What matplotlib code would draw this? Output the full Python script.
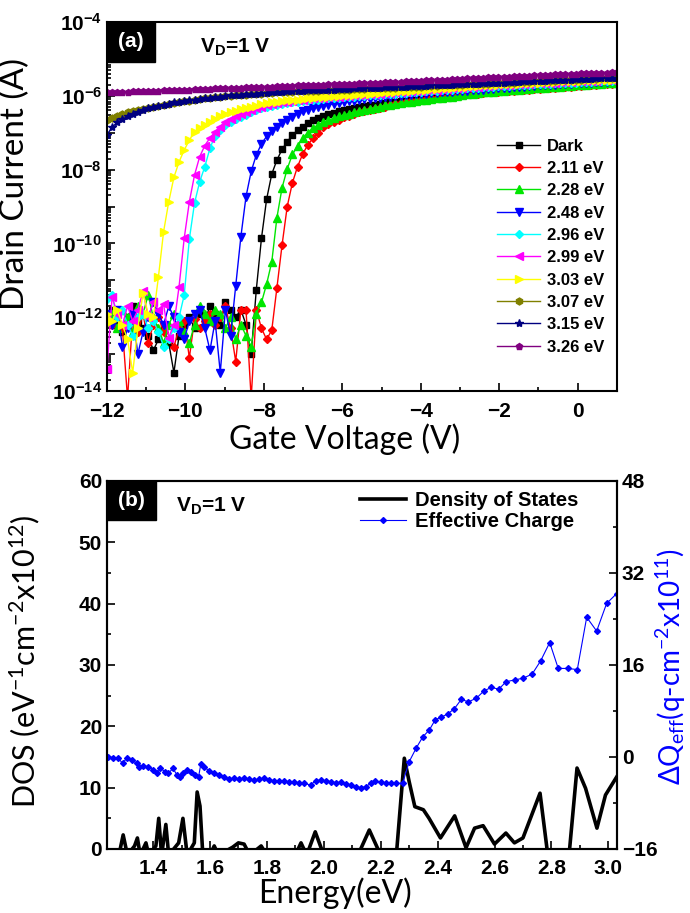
import numpy as np
import matplotlib
matplotlib.use("Agg")
import matplotlib.pyplot as plt
from matplotlib.ticker import LogLocator, MultipleLocator, FuncFormatter, NullFormatter, FormatStrFormatter
from matplotlib.patches import Rectangle

plt.rcParams['font.family'] = ['Liberation Sans', 'DejaVu Sans']
plt.rcParams['font.weight'] = 'bold'
plt.rcParams['mathtext.default'] = 'regular'
LABEL_FONT = ['Lato', 'DejaVu Sans']

# ---------------- panel (a): transfer curves, log10 of drain current ----------------
gate_v = np.linspace(-12, 1, 100)

labels = ['Dark', '2.11 eV', '2.28 eV', '2.48 eV', '2.96 eV',
          '2.99 eV', '3.03 eV', '3.07 eV', '3.15 eV', '3.26 eV']
colors = ['#000000', '#ff0000', '#00e600', '#0000ff', '#00ffff',
          '#ff00ff', '#ffff00', '#808000', '#000080', '#800080']
markers = ['s', 'D', '^', 'v', 'D', '<', '>', 'h', '*', 'p']
msizes = [4.5, 4, 5.5, 5.5, 4, 5.5, 5.5, 5, 6, 5]

log_dark = [-12.0,-11.8,-12.2,-12.4,-12.0,-11.7,-12.1,-12.3,-12.5,-12.9,
            -12.6,-12.3,-12.7,-13.5,-12.5,-12.2,-12.0,-12.3,-11.9,-12.1,
            -11.7,-11.9,-12.2,-11.6,-11.8,-12.0,-11.8,-12.2,-13.0,-11.25,
            -9.86,-8.80,-8.12,-7.74,-7.45,-7.24,-7.07,-6.93,-6.84,-6.74,
            -6.66,-6.60,-6.55,-6.50,-6.46,-6.42,-6.39,-6.36,-6.33,-6.30,
            -6.28,-6.26,-6.24,-6.22,-6.20,-6.18,-6.16,-6.15,-6.13,-6.11,
            -6.10,-6.08,-6.07,-6.05,-6.04,-6.02,-6.01,-6.00,-5.98,-5.97,
            -5.95,-5.94,-5.92,-5.91,-5.90,-5.88,-5.87,-5.86,-5.84,-5.83,
            -5.82,-5.80,-5.79,-5.78,-5.77,-5.76,-5.75,-5.74,-5.73,-5.72,
            -5.71,-5.70,-5.69,-5.68,-5.67,-5.66,-5.65,-5.64,-5.63,-5.62]
log_211 = [-11.9,-12.2,-11.8,-12.3,-14.2,-12.0,-12.4,-11.9,-12.7,-12.2,
           -12.0,-12.4,-12.6,-12.8,-12.3,-12.1,-13.1,-12.05,-12.3,-12.1,
           -11.9,-12.2,-12.0,-11.7,-12.3,-13.2,-11.8,-11.8,-14.2,-11.8,
           -12.3,-12.6,-12.35,-11.2,-10.04,-9.0,-8.36,-7.92,-7.58,-7.33,
           -7.15,-7.0,-6.84,-6.77,-6.71,-6.65,-6.58,-6.54,-6.49,-6.45,
           -6.42,-6.39,-6.36,-6.33,-6.29,-6.26,-6.23,-6.20,-6.17,-6.15,
           -6.13,-6.11,-6.09,-6.07,-6.06,-6.04,-6.03,-6.01,-6.00,-5.98,
           -5.96,-5.95,-5.94,-5.93,-5.91,-5.90,-5.89,-5.88,-5.87,-5.86,
           -5.85,-5.84,-5.83,-5.82,-5.81,-5.80,-5.79,-5.78,-5.77,-5.76,
           -5.75,-5.74,-5.73,-5.72,-5.71,-5.70,-5.69,-5.68,-5.67,-5.66]
log_228 = [-12.1,-11.9,-12.3,-11.8,-12.0,-12.4,-11.7,-11.9,-11.4,-12.0,
           -12.3,-12.7,-12.2,-11.9,-12.1,-12.4,-12.7,-12.2,-11.7,-11.9,
           -12.1,-11.8,-11.9,-12.3,-12.0,-12.6,-12.2,-12.5,-12.8,-11.9,
           -11.6,-11.1,-10.5,-9.3,-8.49,-7.98,-7.59,-7.36,-7.15,-7.00,
           -6.88,-6.79,-6.72,-6.66,-6.61,-6.56,-6.52,-6.48,-6.44,-6.41,
           -6.38,-6.35,-6.32,-6.29,-6.26,-6.24,-6.22,-6.20,-6.18,-6.16,
           -6.14,-6.12,-6.10,-6.08,-6.06,-6.05,-6.03,-6.02,-6.00,-5.99,
           -5.95,-5.94,-5.93,-5.91,-5.90,-5.89,-5.88,-5.86,-5.85,-5.84,
           -5.83,-5.82,-5.81,-5.80,-5.79,-5.78,-5.77,-5.76,-5.75,-5.74,
           -5.73,-5.72,-5.71,-5.70,-5.69,-5.68,-5.67,-5.66,-5.65,-5.64]
log_248 = [-11.9,-12.2,-11.8,-12.8,-12.3,-11.9,-13.0,-12.4,-12.0,-11.6,
           -11.9,-12.2,-11.7,-12.0,-12.4,-12.6,-12.1,-11.9,-11.8,-12.3,
           -12.9,-12.1,-13.5,-11.8,-12.5,-11.15,-9.82,-8.73,-8.05,-7.6,
           -7.3,-7.1,-6.95,-6.84,-6.74,-6.65,-6.57,-6.48,-6.42,-6.38,
           -6.34,-6.30,-6.27,-6.24,-6.22,-6.19,-6.17,-6.15,-6.13,-6.11,
           -6.09,-6.08,-6.06,-6.05,-6.03,-6.02,-6.01,-6.00,-5.99,-5.97,
           -5.96,-5.95,-5.94,-5.93,-5.92,-5.91,-5.90,-5.89,-5.88,-5.87,
           -5.86,-5.85,-5.84,-5.83,-5.82,-5.81,-5.80,-5.79,-5.78,-5.77,
           -5.76,-5.75,-5.74,-5.73,-5.72,-5.71,-5.71,-5.70,-5.69,-5.68,
           -5.67,-5.66,-5.66,-5.65,-5.64,-5.63,-5.63,-5.62,-5.61,-5.60]
log_296 = [-11.5,-11.4,-12.0,-11.8,-12.2,-12.5,-12.0,-11.9,-12.3,-12.1,
           -12.4,-12.8,-12.6,-12.3,-12.0,-11.4,-9.88,-8.91,-8.33,-7.92,
           -7.42,-7.08,-6.93,-6.79,-6.70,-6.63,-6.57,-6.51,-6.44,-6.39,
           -6.34,-6.30,-6.27,-6.25,-6.22,-6.20,-6.18,-6.16,-6.14,-6.12,
           -6.11,-6.10,-6.08,-6.07,-6.06,-6.05,-6.04,-6.03,-6.02,-6.01,
           -6.00,-5.99,-5.98,-5.97,-5.96,-5.95,-5.94,-5.93,-5.92,-5.91,
           -5.90,-5.89,-5.88,-5.87,-5.86,-5.85,-5.84,-5.83,-5.82,-5.81,
           -5.80,-5.79,-5.78,-5.77,-5.76,-5.75,-5.74,-5.74,-5.73,-5.72,
           -5.71,-5.70,-5.70,-5.69,-5.68,-5.68,-5.67,-5.66,-5.66,-5.65,
           -5.64,-5.64,-5.63,-5.62,-5.62,-5.61,-5.61,-5.60,-5.60,-5.59]
log_299 = [-13.4,-11.45,-11.9,-12.2,-11.7,-12.1,-11.8,-11.3,-12.0,-11.6,
           -11.8,-11.65,-12.55,-12.2,-11.17,-9.86,-8.87,-8.15,-7.65,-7.35,
           -7.14,-6.98,-6.84,-6.72,-6.63,-6.56,-6.49,-6.43,-6.38,-6.34,
           -6.30,-6.26,-6.23,-6.20,-6.18,-6.16,-6.14,-6.12,-6.10,-6.09,
           -6.07,-6.06,-6.05,-6.04,-6.03,-6.02,-6.01,-6.00,-5.99,-5.98,
           -5.97,-5.96,-5.95,-5.94,-5.93,-5.92,-5.91,-5.90,-5.89,-5.88,
           -5.87,-5.86,-5.85,-5.84,-5.83,-5.82,-5.81,-5.80,-5.79,-5.78,
           -5.77,-5.76,-5.75,-5.74,-5.73,-5.72,-5.72,-5.71,-5.70,-5.69,
           -5.69,-5.68,-5.67,-5.66,-5.66,-5.65,-5.64,-5.64,-5.63,-5.62,
           -5.62,-5.61,-5.60,-5.60,-5.59,-5.59,-5.58,-5.57,-5.57,-5.56]
log_303 = [-11.9,-12.1,-11.8,-12.2,-12.6,-13.5,-12.3,-11.35,-11.9,-12.0,
           -10.9,-9.68,-8.87,-8.21,-7.79,-7.47,-7.20,-6.97,-6.87,-6.79,
           -6.70,-6.62,-6.55,-6.48,-6.44,-6.40,-6.37,-6.34,-6.30,-6.27,
           -6.23,-6.20,-6.18,-6.16,-6.14,-6.12,-6.11,-6.10,-6.08,-6.07,
           -6.06,-6.04,-6.03,-6.02,-6.01,-6.00,-5.99,-5.98,-5.97,-5.96,
           -5.95,-5.94,-5.93,-5.92,-5.91,-5.90,-5.89,-5.88,-5.87,-5.86,
           -5.85,-5.84,-5.83,-5.82,-5.81,-5.80,-5.79,-5.78,-5.77,-5.76,
           -5.75,-5.74,-5.73,-5.72,-5.71,-5.71,-5.70,-5.69,-5.68,-5.68,
           -5.67,-5.66,-5.65,-5.65,-5.64,-5.63,-5.63,-5.62,-5.61,-5.61,
           -5.60,-5.60,-5.59,-5.58,-5.58,-5.57,-5.57,-5.56,-5.56,-5.55]
log_307 = [-6.66,-6.60,-6.55,-6.49,-6.45,-6.42,-6.38,-6.35,-6.32,-6.29,
           -6.27,-6.25,-6.21,-6.19,-6.17,-6.15,-6.13,-6.11,-6.09,-6.07,
           -6.06,-6.04,-6.03,-6.01,-6.00,-5.99,-5.98,-5.97,-5.96,-5.95,
           -5.94,-5.93,-5.92,-5.91,-5.90,-5.89,-5.89,-5.88,-5.87,-5.87,
           -5.86,-5.86,-5.85,-5.85,-5.84,-5.84,-5.83,-5.83,-5.82,-5.81,
           -5.81,-5.80,-5.80,-5.79,-5.79,-5.78,-5.78,-5.77,-5.76,-5.76,
           -5.75,-5.75,-5.74,-5.73,-5.73,-5.72,-5.72,-5.71,-5.70,-5.70,
           -5.69,-5.69,-5.68,-5.67,-5.67,-5.66,-5.65,-5.65,-5.64,-5.64,
           -5.63,-5.62,-5.62,-5.61,-5.61,-5.60,-5.59,-5.59,-5.58,-5.58,
           -5.57,-5.56,-5.56,-5.55,-5.55,-5.54,-5.53,-5.53,-5.52,-5.52]
log_315 = [-7.06,-6.85,-6.72,-6.63,-6.56,-6.50,-6.44,-6.39,-6.34,-6.30,
           -6.27,-6.24,-6.21,-6.18,-6.16,-6.14,-6.12,-6.10,-6.08,-6.06,
           -6.05,-6.03,-6.02,-6.00,-5.99,-5.98,-5.97,-5.96,-5.95,-5.94,
           -5.93,-5.92,-5.91,-5.90,-5.89,-5.88,-5.87,-5.87,-5.86,-5.85,
           -5.85,-5.84,-5.84,-5.83,-5.83,-5.82,-5.82,-5.81,-5.80,-5.80,
           -5.79,-5.79,-5.78,-5.78,-5.77,-5.77,-5.76,-5.75,-5.75,-5.74,
           -5.74,-5.73,-5.73,-5.72,-5.71,-5.71,-5.70,-5.70,-5.69,-5.68,
           -5.68,-5.67,-5.67,-5.66,-5.65,-5.65,-5.64,-5.64,-5.63,-5.62,
           -5.62,-5.61,-5.61,-5.60,-5.59,-5.59,-5.58,-5.58,-5.57,-5.56,
           -5.56,-5.55,-5.55,-5.54,-5.54,-5.53,-5.52,-5.52,-5.51,-5.51]
log_326 = [-5.91,-5.90,-5.90,-5.89,-5.89,-5.88,-5.88,-5.87,-5.87,-5.86,
           -5.86,-5.85,-5.85,-5.84,-5.84,-5.83,-5.83,-5.82,-5.82,-5.81,
           -5.81,-5.80,-5.80,-5.79,-5.79,-5.78,-5.78,-5.77,-5.77,-5.76,
           -5.76,-5.75,-5.75,-5.74,-5.74,-5.73,-5.73,-5.72,-5.72,-5.71,
           -5.71,-5.70,-5.70,-5.69,-5.69,-5.68,-5.68,-5.67,-5.67,-5.66,
           -5.66,-5.65,-5.65,-5.64,-5.63,-5.63,-5.62,-5.62,-5.61,-5.60,
           -5.60,-5.59,-5.58,-5.58,-5.57,-5.56,-5.56,-5.55,-5.54,-5.54,
           -5.53,-5.52,-5.52,-5.51,-5.50,-5.50,-5.49,-5.48,-5.48,-5.47,
           -5.46,-5.46,-5.45,-5.44,-5.44,-5.43,-5.43,-5.42,-5.41,-5.41,
           -5.40,-5.40,-5.39,-5.39,-5.38,-5.38,-5.37,-5.37,-5.36,-5.36]

log_currents = [log_dark, log_211, log_228, log_248, log_296,
                log_299, log_303, log_307, log_315, log_326]

# ---------------- panel (b): density of states and effective charge ----------------
dos_energy = [1.24, 1.28, 1.295, 1.31, 1.335, 1.345, 1.355, 1.375, 1.385, 1.41,
              1.42, 1.43, 1.445, 1.455, 1.49, 1.505, 1.52, 1.545, 1.555, 1.565,
              1.575, 1.60, 1.615, 1.63, 1.68, 1.70, 1.72, 1.74, 1.78, 1.80,
              1.90, 1.92, 1.94, 1.97, 2.0, 2.12, 2.16, 2.2, 2.255, 2.283,
              2.30, 2.32, 2.35, 2.37, 2.41, 2.46, 2.50, 2.53, 2.56, 2.60,
              2.64, 2.67, 2.70, 2.76, 2.79, 2.86, 2.89, 2.92, 2.96, 2.99, 3.03]
dos_values = [-1, -1, 2.3, -1, 0.5, 1.8, -1, 1.0, -1, 0.5,
              5.0, -1, 4.0, -1, 1.0, 5.0, -1, 1.0, 9.3, 7.0,
              -1, -1, 0.5, -1, 0.3, 1.0, 0.8, -1, 0.5, -1,
              -1, 1.0, -1, 2.8, -1, -1, 3.1, -1, -1, 14.8,
              11.0, 6.9, 6.4, 5.0, 1.8, 5.4, 0.2, 3.4, 3.8, 0.8,
              2.6, 1.0, 1.8, 9.1, -2, -2, 13.2, 9.9, 3.4, 8.8, 11.8]

charge_energy = [1.243, 1.260, 1.278, 1.293, 1.307, 1.325, 1.343, 1.352, 1.366, 1.384,
                 1.401, 1.415, 1.425, 1.443, 1.454, 1.470, 1.484, 1.495, 1.507, 1.521,
                 1.533, 1.548, 1.560, 1.568, 1.580, 1.595, 1.613, 1.631, 1.648, 1.666,
                 1.683, 1.701, 1.719, 1.736, 1.754, 1.772, 1.789, 1.807, 1.825, 1.842,
                 1.860, 1.877, 1.895, 1.913, 1.930, 1.954, 1.971, 1.989, 2.007, 2.024,
                 2.042, 2.060, 2.077, 2.095, 2.112, 2.130, 2.148, 2.165, 2.179, 2.200,
                 2.218, 2.236, 2.253, 2.277, 2.300, 2.324, 2.348, 2.371, 2.392, 2.412,
                 2.436, 2.459, 2.483, 2.508, 2.536, 2.563, 2.589, 2.615, 2.641, 2.671,
                 2.700, 2.732, 2.762, 2.794, 2.824, 2.857, 2.891, 2.924, 2.959, 2.994, 3.029]
charge_values = [0.06, -0.12, -0.23, -1.10, -0.23, -0.52, -1.10, -1.68, -1.57, -1.68,
                 -2.26, -2.84, -1.97, -2.55, -2.84, -1.97, -3.13, -3.42, -2.84, -2.26,
                 -2.55, -3.13, -3.42, -1.22, -1.68, -2.38, -2.72, -3.13, -3.42, -3.88,
                 -3.71, -3.88, -3.71, -3.83, -4.00, -3.88, -3.71, -4.00, -4.12, -4.17,
                 -4.17, -4.29, -4.40, -4.46, -4.58, -4.87, -4.12, -4.00, -4.17, -4.29,
                 -4.46, -4.40, -4.70, -4.87, -5.16, -5.33, -5.16, -4.58, -4.12, -4.40,
                 -4.58, -4.46, -4.58, -4.58, -0.84, 1.48, 3.5, 4.7, 6.5, 6.9,
                 7.5, 8.4, 10.0, 9.6, 10.2, 11.5, 12.1, 11.8, 13.1, 13.4,
                 13.7, 14.4, 16.7, 19.9, 15.4, 15.4, 15.2, 24.3, 21.9, 26.7, 28.4]

fig = plt.figure(figsize=(6.9, 9.13), dpi=100)

# ---- (a)
ax1 = fig.add_axes([0.155, 0.5717, 0.739, 0.4042])
for lab, col, mk, ms, vals in zip(labels, colors, markers, msizes, log_currents):
    ax1.plot(gate_v, 10.0 ** np.array(vals), color=col, marker=mk, ms=ms,
             lw=1, mec=col, label=lab)
ax1.set_yscale('log')
ax1.set_xlim(-12, 1)
ax1.set_ylim(1e-14, 1e-4)
ax1.yaxis.set_major_locator(LogLocator(base=10, numticks=20))
ax1.yaxis.set_minor_locator(LogLocator(base=10, subs=np.arange(2, 10), numticks=20))


def dec_fmt(v, pos):
    e = int(round(np.log10(v)))
    return r'$10^{%d}$' % e if e % 2 == 0 else ''


ax1.yaxis.set_major_formatter(FuncFormatter(dec_fmt))
ax1.yaxis.set_minor_formatter(NullFormatter())
ax1.xaxis.set_major_locator(MultipleLocator(2))
ax1.xaxis.set_minor_locator(MultipleLocator(1))
ax1.tick_params(which='both', direction='in', top=False, right=False, labelsize=15, width=1.2)
ax1.tick_params(which='major', length=6)
ax1.tick_params(which='minor', length=3)
ax1.tick_params(axis='x', pad=8)
for s in ax1.spines.values():
    s.set_linewidth(1.5)
ax1.set_xlabel('Gate Voltage (V)', fontsize=23, family=LABEL_FONT, fontweight='normal')
ax1.set_ylabel('Drain Current (A)', fontsize=24, family=LABEL_FONT, fontweight='normal')
ax1.xaxis.set_label_coords(0.467, -0.088)
ax1.yaxis.set_label_coords(-0.150, 0.56)
ax1.legend(loc='upper left', bbox_to_anchor=(0.765, 0.684), frameon=False, fontsize=12,
           borderpad=0, borderaxespad=0, handlelength=2.6, handletextpad=0.4,
           labelspacing=0.44, markerscale=1.0)
ax1.add_patch(Rectangle((0, 1 - 0.108), 0.094, 0.108, transform=ax1.transAxes,
                        facecolor='black', edgecolor='black', zorder=5, clip_on=False))
ax1.text(0.047, 1 - 0.054, '(a)', transform=ax1.transAxes, color='white', fontsize=15,
         ha='center', va='center', zorder=6)
ax1.text(0.251, 0.932, r'$V_D$=1 V', transform=ax1.transAxes, fontsize=15,
         ha='center', va='center')

# ---- (b)
ax2 = fig.add_axes([0.155, 0.0701, 0.739, 0.4031])
ax3 = ax2.twinx()
l1, = ax2.plot(dos_energy, dos_values, color='black', lw=2.6, label='Density of States')
l2, = ax3.plot(charge_energy, charge_values, color='#0000ff', lw=0.8, marker='D', ms=3,
               label='Effective Charge')
ax2.set_xlim(1.238, 3.03)
ax2.set_ylim(0, 60)
ax3.set_ylim(-16, 48)
ax2.xaxis.set_major_locator(MultipleLocator(0.2))
ax2.xaxis.set_minor_locator(MultipleLocator(0.1))
ax2.xaxis.set_major_formatter(FormatStrFormatter('%.1f'))
ax2.yaxis.set_major_locator(MultipleLocator(10))
ax2.yaxis.set_minor_locator(MultipleLocator(5))
ax3.yaxis.set_major_locator(MultipleLocator(16))
ax3.yaxis.set_minor_locator(MultipleLocator(8))
ax2.tick_params(which='both', direction='in', top=False, right=False, labelsize=15, width=1.2)
ax3.tick_params(which='both', direction='in', top=False, left=False, labelsize=15, width=1.2)
ax2.tick_params(axis='x', pad=7)
for a in (ax2, ax3):
    a.tick_params(which='major', length=6)
    a.tick_params(which='minor', length=3)
    for s in a.spines.values():
        s.set_linewidth(1.5)
ax2.set_xlabel('Energy(eV)', fontsize=23, family=LABEL_FONT, fontweight='normal')
ax2.set_ylabel(r'DOS (eV$^{-1}$cm$^{-2}$x10$^{12}$)', fontsize=22, family=LABEL_FONT,
               fontweight='normal')
ax3.set_ylabel(r'ΔQ$_{eff}$(q-cm$^{-2}$x10$^{11}$)', fontsize=20, family=LABEL_FONT,
               fontweight='normal', color='#0000ff')
ax2.xaxis.set_label_coords(0.447, -0.078)
ax2.yaxis.set_label_coords(-0.128, 0.51)
ax3.yaxis.set_label_coords(1.072, 0.495)
ax3.legend([l1, l2], ['Density of States', 'Effective Charge'], loc='upper left',
           bbox_to_anchor=(0.496, 0.972), frameon=False, fontsize=14.5, borderpad=0,
           borderaxespad=0, handlelength=2.3, handletextpad=0.45, labelspacing=0.08)
ax3.add_patch(Rectangle((0, 1 - 0.106), 0.096, 0.106, transform=ax3.transAxes,
                        facecolor='black', edgecolor='black', zorder=5, clip_on=False))
ax3.text(0.048, 1 - 0.053, '(b)', transform=ax3.transAxes, color='white', fontsize=15,
         ha='center', va='center', zorder=6)
ax3.text(0.204, 0.932, r'$V_D$=1 V', transform=ax3.transAxes, fontsize=15,
         ha='center', va='center')

fig.savefig('out.png', dpi=100)
